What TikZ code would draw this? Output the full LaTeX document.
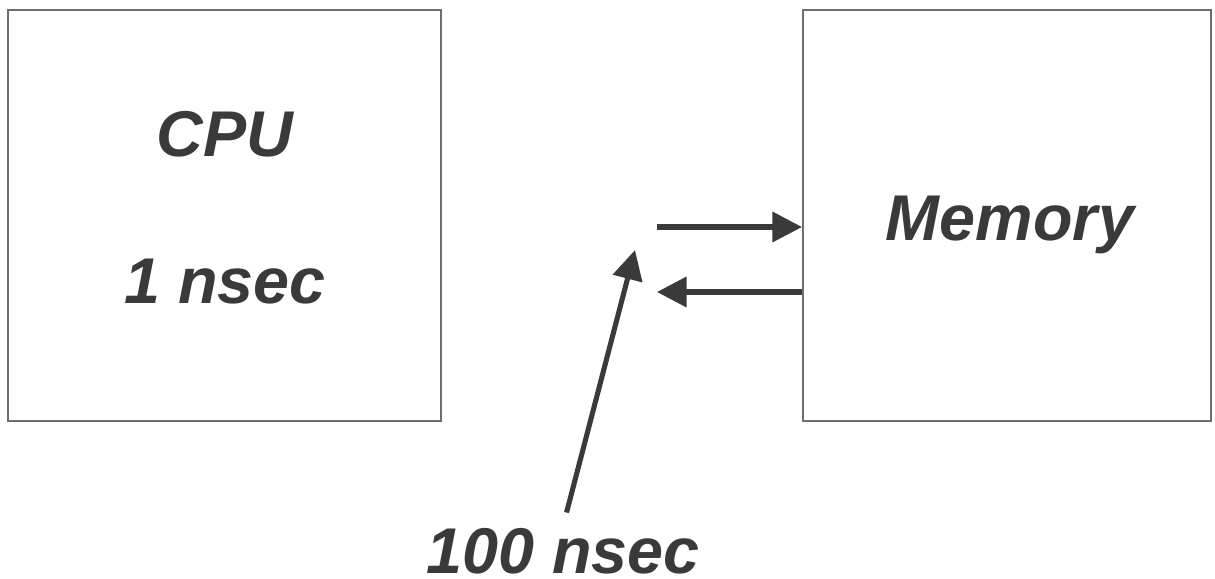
\documentclass[tikz,border=0pt]{standalone}
\usepackage{fontspec}
\setmainfont{Liberation Sans}
\usetikzlibrary{arrows.meta,positioning}
\definecolor{inkgray}{HTML}{3A3A3A}
\definecolor{framegray}{HTML}{6E6E6E}
\tikzset{
    unit/.style={draw=framegray, line width=1.4pt, rectangle, inner sep=0pt},
    big/.style={font=\fontsize{46}{55}\selectfont\bfseries\itshape, text=inkgray, inner sep=1pt},
    flow/.style={draw=inkgray, line width=3.6pt, -{Triangle[length=21pt,width=21pt]}}
}

\begin{document}
\begin{tikzpicture}[x=0.025cm, y=-0.025cm]
    \useasboundingbox[fill=white] (0,0) rectangle (1215,578);
    % the two units
    \node[unit, minimum width=10.825cm, minimum height=10.275cm] (cpu) at (224.5,215.5) {};
    \node[unit, minimum width=10.2cm, minimum height=10.275cm] (mem) at (1007,215.5) {};
    \node[big, anchor=base] (cpuname) at (225,156) {CPU};
    \node[big, anchor=base] (cputime) at (225,303) {1 nsec};
    \node[big, anchor=base] (memname) at (1010,240) {Memory};
    \node[big, anchor=base] (lat) at (563,573) {100 nsec};
    % request and reply
    \coordinate (req) at (657,227);
    \coordinate (ret) at (657,292);
    \draw[flow] (req) -- (req -| mem.west);
    \draw[flow] (ret -| mem.west) -- (ret);
    \coordinate (hit) at (635,250);
    \draw[flow, shorten <=10pt] (lat.north) -- (hit);
\end{tikzpicture}
\end{document}
